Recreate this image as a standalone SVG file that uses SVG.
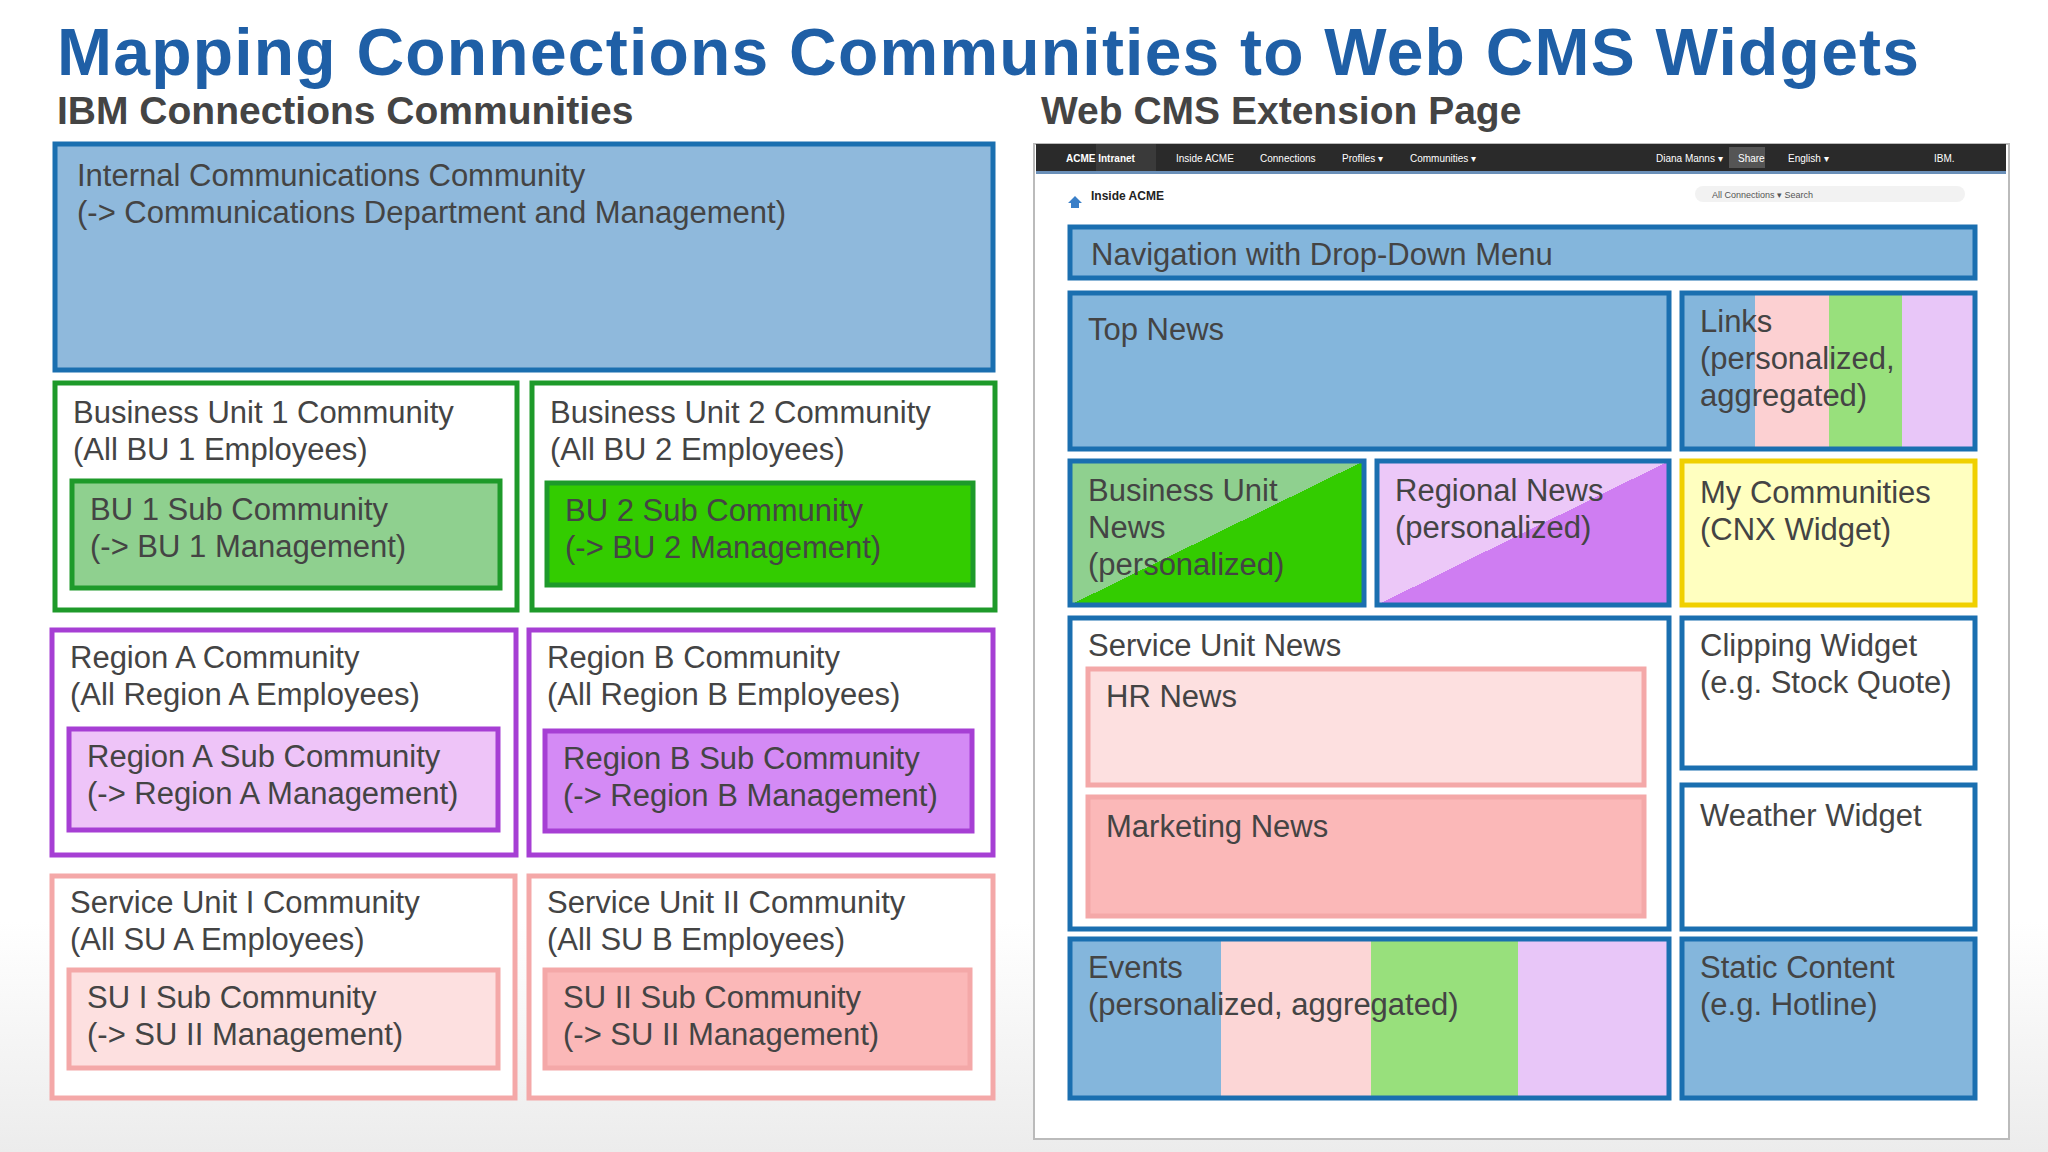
<svg xmlns="http://www.w3.org/2000/svg" width="2048" height="1152" viewBox="0 0 2048 1152">
<defs>
<style>
.t{font-family:"Liberation Sans",Arial,sans-serif;font-size:31px;fill:#444}
.s{font-family:"Liberation Sans",Arial,sans-serif;font-size:10px;fill:#fff}
.b{stroke-width:5}
.blue{fill:#8fb9dc;stroke:#1a6fb0}
.rb{fill:#84b6dc;stroke:#1a6fb0;stroke-width:5}
.grn{stroke:#1e9a2a}
.pur{stroke:#a63fd4}
.red{stroke:#f4a8a8}
</style>
<linearGradient id="links" x1="0" y1="0" x2="1" y2="0">
<stop offset="0.25" stop-color="#84b6dc"/><stop offset="0.25" stop-color="#fcd0d2"/>
<stop offset="0.5" stop-color="#fcd0d2"/><stop offset="0.5" stop-color="#98e07c"/>
<stop offset="0.75" stop-color="#98e07c"/><stop offset="0.75" stop-color="#e8c6f8"/>
</linearGradient>
<linearGradient id="events" x1="0" y1="0" x2="1" y2="0">
<stop offset="0.252" stop-color="#84b6dc"/><stop offset="0.252" stop-color="#fcd6d6"/>
<stop offset="0.502" stop-color="#fcd6d6"/><stop offset="0.502" stop-color="#98e07c"/>
<stop offset="0.748" stop-color="#98e07c"/><stop offset="0.748" stop-color="#e8c6f8"/>
</linearGradient>
<linearGradient id="bun" x1="0" y1="0" x2="1" y2="1">
<stop offset="0.5" stop-color="#8fd08f"/><stop offset="0.5" stop-color="#33cc00"/>
</linearGradient>
<linearGradient id="reg" x1="0" y1="0" x2="1" y2="1">
<stop offset="0.5" stop-color="#ecc8f8"/><stop offset="0.5" stop-color="#cf7df2"/>
</linearGradient>
<linearGradient id="bg" x1="0" y1="0" x2="0" y2="1">
<stop offset="0.8" stop-color="#ffffff"/><stop offset="1" stop-color="#ececec"/>
</linearGradient>
</defs>
<rect width="2048" height="1152" fill="url(#bg)"/>
<text x="57" y="75" font-family="Liberation Sans,Arial,sans-serif" font-weight="bold" font-size="66" fill="#1f5fa6" textLength="1862">Mapping Connections Communities to Web CMS Widgets</text>
<text x="57" y="124" font-family="Liberation Sans,Arial,sans-serif" font-weight="bold" font-size="39" fill="#444">IBM Connections Communities</text>
<text x="1041" y="124" font-family="Liberation Sans,Arial,sans-serif" font-weight="bold" font-size="39" fill="#444">Web CMS Extension Page</text>

<g id="internal"><rect x="55" y="144" width="938" height="226" class="blue b"/>
<text class="t" x="77" y="186">Internal Communications Community</text><text class="t" x="77" y="223">(-&gt; Communications Department and Management)</text></g>
<g id="bu1"><rect x="55" y="383" width="462" height="227" fill="#fff" class="grn b"/>
<text class="t" x="73" y="423">Business Unit 1 Community</text><text class="t" x="73" y="460">(All BU 1 Employees)</text></g>
<g id="bu1sub"><rect x="72" y="481" width="428" height="107" fill="#8fd08f" class="grn b"/>
<text class="t" x="90" y="520">BU 1 Sub Community</text><text class="t" x="90" y="557">(-&gt; BU 1 Management)</text></g>
<g id="bu2"><rect x="532" y="383" width="463" height="227" fill="#fff" class="grn b"/>
<text class="t" x="550" y="423">Business Unit 2 Community</text><text class="t" x="550" y="460">(All BU 2 Employees)</text></g>
<g id="bu2sub"><rect x="547" y="483" width="426" height="102" fill="#33cc00" class="grn b"/>
<text class="t" x="565" y="521">BU 2 Sub Community</text><text class="t" x="565" y="558">(-&gt; BU 2 Management)</text></g>
<g id="ra"><rect x="52" y="630" width="464" height="225" fill="#fff" class="pur b"/>
<text class="t" x="70" y="668">Region A Community</text><text class="t" x="70" y="705">(All Region A Employees)</text></g>
<g id="rasub"><rect x="69" y="729" width="429" height="101" fill="#eec4f8" class="pur b"/>
<text class="t" x="87" y="767">Region A Sub Community</text><text class="t" x="87" y="804">(-&gt; Region A Management)</text></g>
<g id="rb"><rect x="529" y="630" width="464" height="225" fill="#fff" class="pur b"/>
<text class="t" x="547" y="668">Region B Community</text><text class="t" x="547" y="705">(All Region B Employees)</text></g>
<g id="rbsub"><rect x="545" y="731" width="427" height="100" fill="#d48af5" class="pur b"/>
<text class="t" x="563" y="769">Region B Sub Community</text><text class="t" x="563" y="806">(-&gt; Region B Management)</text></g>
<g id="su1"><rect x="52" y="876" width="463" height="222" fill="#fff" class="red b"/>
<text class="t" x="70" y="913">Service Unit I Community</text><text class="t" x="70" y="950">(All SU A Employees)</text></g>
<g id="su1sub"><rect x="69" y="970" width="429" height="98" fill="#fde0e0" class="red b"/>
<text class="t" x="87" y="1008">SU I Sub Community</text><text class="t" x="87" y="1045">(-&gt; SU II Management)</text></g>
<g id="su2"><rect x="529" y="876" width="464" height="222" fill="#fff" class="red b"/>
<text class="t" x="547" y="913">Service Unit II Community</text><text class="t" x="547" y="950">(All SU B Employees)</text></g>
<g id="su2sub"><rect x="545" y="970" width="425" height="98" fill="#fbb8b8" class="red b"/>
<text class="t" x="563" y="1008">SU II Sub Community</text><text class="t" x="563" y="1045">(-&gt; SU II Management)</text></g>

<g id="page">
<rect x="1034" y="144" width="975" height="995" fill="#fff" stroke="#bbb" stroke-width="2"/>
<rect x="1036" y="144" width="970" height="27" fill="#2a2a2a"/>
<rect x="1036" y="171" width="970" height="3" fill="#6a8fb8"/>
<rect x="1096" y="144" width="60" height="27" fill="#3a3a3a"/>
<rect x="1729" y="147" width="36" height="21" fill="#555"/>
<text class="s" x="1066" y="162" font-weight="bold">ACME Intranet</text>
<text class="s" x="1176" y="162">Inside ACME</text>
<text class="s" x="1260" y="162">Connections</text>
<text class="s" x="1342" y="162">Profiles ▾</text>
<text class="s" x="1410" y="162">Communities ▾</text>
<text class="s" x="1656" y="162" font-size="8">Diana Manns ▾</text>
<text class="s" x="1738" y="162" font-size="8">Share</text>
<text class="s" x="1788" y="162" font-size="8">English ▾</text>
<text class="s" x="1934" y="162" fill="#888">IBM.</text>
<path d="M1068 203 l7 -7 l7 7 h-3 v5 h-8 v-5z" fill="#3a7fc8"/>
<text x="1091" y="200" font-family="Liberation Sans,Arial,sans-serif" font-size="12" font-weight="bold" fill="#222">Inside ACME</text>
<rect x="1695" y="186" width="270" height="16" rx="8" fill="#f2f2f2"/>
<text x="1712" y="198" font-family="Liberation Sans,Arial,sans-serif" font-size="9" fill="#555">All Connections       ▾  Search</text>
</g>

<g id="nav"><rect x="1070" y="227" width="905" height="51" class="rb"/><text class="t" x="1091" y="265">Navigation with Drop-Down Menu</text></g>
<g id="topnews"><rect x="1070" y="293" width="599" height="156" class="rb"/><text class="t" x="1088" y="340">Top  News</text></g>
<g id="links"><rect x="1682" y="293" width="293" height="156" fill="url(#links)" stroke="#1a6fb0" stroke-width="5"/>
<text class="t" x="1700" y="332">Links</text><text class="t" x="1700" y="369">(personalized,</text><text class="t" x="1700" y="406">aggregated)</text></g>
<g id="bunews"><rect x="1070" y="461" width="294" height="144" fill="url(#bun)" stroke="#1a6fb0" stroke-width="5"/>
<text class="t" x="1088" y="501">Business Unit</text><text class="t" x="1088" y="538">News</text><text class="t" x="1088" y="575">(personalized)</text></g>
<g id="regnews"><rect x="1377" y="461" width="292" height="144" fill="url(#reg)" stroke="#1a6fb0" stroke-width="5"/>
<text class="t" x="1395" y="501">Regional News</text><text class="t" x="1395" y="538">(personalized)</text></g>
<g id="mycomm"><rect x="1682" y="461" width="293" height="144" fill="#ffffc0" stroke="#f0d000" stroke-width="5"/>
<text class="t" x="1700" y="503">My Communities</text><text class="t" x="1700" y="540">(CNX Widget)</text></g>
<g id="sunews"><rect x="1070" y="618" width="599" height="311" fill="#fff" stroke="#1a6fb0" stroke-width="5"/>
<text class="t" x="1088" y="656">Service Unit News</text></g>
<g id="hr"><rect x="1088" y="669" width="556" height="116" fill="#fde0e0" class="red b"/><text class="t" x="1106" y="707">HR News</text></g>
<g id="mkt"><rect x="1088" y="797" width="556" height="119" fill="#fbb8b8" class="red b"/><text class="t" x="1106" y="837">Marketing News</text></g>
<g id="clip"><rect x="1682" y="618" width="293" height="150" fill="#fff" stroke="#1a6fb0" stroke-width="5"/>
<text class="t" x="1700" y="656">Clipping Widget</text><text class="t" x="1700" y="693">(e.g. Stock Quote)</text></g>
<g id="weather"><rect x="1682" y="785" width="293" height="144" fill="#fff" stroke="#1a6fb0" stroke-width="5"/>
<text class="t" x="1700" y="826">Weather Widget</text></g>
<g id="events"><rect x="1070" y="939" width="599" height="159" fill="url(#events)" stroke="#1a6fb0" stroke-width="5"/>
<text class="t" x="1088" y="978">Events</text><text class="t" x="1088" y="1015">(personalized, aggregated)</text></g>
<g id="static"><rect x="1682" y="939" width="293" height="159" class="rb"/>
<text class="t" x="1700" y="978">Static Content</text><text class="t" x="1700" y="1015">(e.g. Hotline)</text></g>
<g id="connectors"/>
</svg>
